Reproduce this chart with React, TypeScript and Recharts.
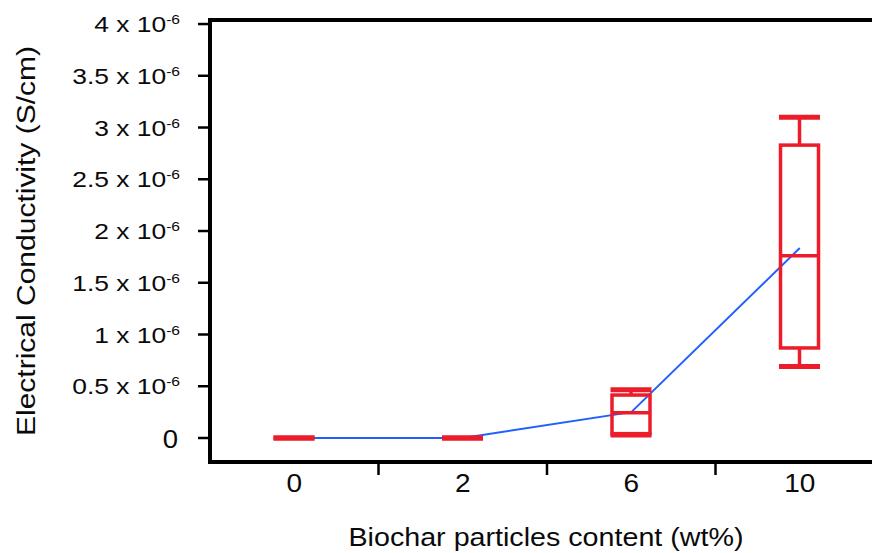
import { ComposedChart, Bar, Line, XAxis, YAxis } from 'recharts'

// biochar particle content (wt%)
const contents = ['0', '2', '6', '10']
// electrical conductivity, in units of 10^-6 S/cm
const mins = [0, 0, 0.03, 0.69]
const q1s = [0, 0, 0.042, 0.87]
const medians = [0, 0, 0.245, 1.76]
const q3s = [0, 0, 0.415, 2.83]
const maxs = [0, 0, 0.465, 3.1]
const means = [0, 0, 0.25, 1.835]
const yTicks = [0, 0.5, 1, 1.5, 2, 2.5, 3, 3.5, 4]
// separators between categories (category index space)
const sepTicks = [0.5, 1.5, 2.5]

const RED = '#ec1c2a'
const BLUE = '#2060ff'
const INK = '#0a0a0a'

const data = contents.map((content, i) => ({
  content,
  pos: i,
  min: mins[i],
  q1: q1s[i],
  median: medians[i],
  q3: q3s[i],
  max: maxs[i],
  mean: means[i],
}))

function BoxShape(props: any) {
  const { x, y, width, height, payload } = props
  const top = Math.min(y, y + height)
  const bottom = Math.max(y, y + height)
  const span = payload.max - payload.min
  // linear in the y scale, between the pixels of min and max
  const py = (v: number) =>
    span > 0 ? bottom - ((v - payload.min) / span) * (bottom - top) : top
  const cx = x + width / 2
  const yMax = py(payload.max)
  const yQ3 = py(payload.q3)
  const yMed = py(payload.median)
  const yQ1 = py(payload.q1)
  const yMin = py(payload.min)
  return (
    <g stroke={RED} fill="none">
      <line x1={cx} x2={cx} y1={yMax} y2={yQ3} strokeWidth={3.5} />
      <line x1={cx} x2={cx} y1={yQ1} y2={yMin} strokeWidth={3.5} />
      <line x1={x - 1.5} x2={x + width + 1.5} y1={yMax} y2={yMax} strokeWidth={5} />
      <line x1={x - 1.5} x2={x + width + 1.5} y1={yMin} y2={yMin} strokeWidth={5} />
      <rect x={x} y={yQ3} width={width} height={Math.max(0, yQ1 - yQ3)} strokeWidth={3.5} />
      <line x1={x} x2={x + width} y1={yMed} y2={yMed} strokeWidth={3.5} />
    </g>
  )
}

function YTick({ x, y, payload }: any) {
  const v = payload.value
  if (v === 0) {
    return (
      <g transform={`translate(${x - 20},${y}) scale(1.1,1)`}>
        <text textAnchor="end" dy={10} fontSize={25} fill={INK} fontFamily="Liberation Sans, Arial, sans-serif">
          0
        </text>
      </g>
    )
  }
  return (
    <g transform={`translate(${x - 18},${y}) scale(1.2,1)`}>
      <text textAnchor="end" dy={8} fontSize={22} fill={INK} fontFamily="Liberation Sans, Arial, sans-serif">
        {`${v} x 10`}
        <tspan fontSize={13} dy={-8}>-6</tspan>
      </text>
    </g>
  )
}

function XTick({ x, y, payload }: any) {
  return (
    <g transform={`translate(${x},${y}) scale(1.12,1)`}>
      <text textAnchor="middle" dy={29} fontSize={25} fill={INK} fontFamily="Liberation Sans, Arial, sans-serif">
        {payload.value}
      </text>
    </g>
  )
}

function NoTick() {
  return <g />
}

function XTitle({ viewBox }: any) {
  return (
    <text
      x={viewBox.x + viewBox.width / 2 - 1}
      y={viewBox.y + 83}
      textAnchor="middle"
      fontSize={25}
      textLength={395}
      lengthAdjust="spacingAndGlyphs"
      fill={INK}
      fontFamily="Liberation Sans, Arial, sans-serif"
    >
      Biochar particles content (wt%)
    </text>
  )
}

function YTitle({ viewBox }: any) {
  const cx = 35
  const cy = viewBox.y + viewBox.height / 2
  return (
    <text
      x={cx}
      y={cy}
      transform={`rotate(-90, ${cx}, ${cy})`}
      textAnchor="middle"
      fontSize={25}
      textLength={390}
      lengthAdjust="spacingAndGlyphs"
      fill={INK}
      fontFamily="Liberation Sans, Arial, sans-serif"
    >
      Electrical Conductivity (S/cm)
    </text>
  )
}

const axisLine = { stroke: '#000', strokeWidth: 4, strokeLinecap: 'square' as const }

export default function App() {
  return (
    <div
      style={{
        position: 'fixed',
        left: 0,
        top: 0,
        width: 872,
        height: 553,
        overflow: 'hidden',
        background: '#fff',
      }}
    >
      <ComposedChart width={900} height={553} data={data} margin={{ top: 19, right: 16, bottom: 0, left: 0 }}>
        <XAxis
          xAxisId="a"
          type="number"
          dataKey="pos"
          domain={[-0.5, 3.5]}
          ticks={sepTicks}
          allowDataOverflow
          interval={0}
          height={1}
          axisLine={axisLine}
          tick={<NoTick />}
          tickSize={13}
          tickLine={{ stroke: '#000', strokeWidth: 2.5 }}
        />
        <XAxis
          xAxisId="b"
          dataKey="content"
          height={90}
          axisLine={false}
          tickLine={false}
          tickSize={0}
          tickMargin={0}
          tick={<XTick />}
          interval={0}
          label={{ content: <XTitle /> }}
        />
        <XAxis
          xAxisId="top"
          dataKey="content"
          orientation="top"
          height={1}
          axisLine={axisLine}
          tickLine={false}
          tick={false}
        />
        <YAxis
          type="number"
          width={210}
          domain={[-0.232, 4.039]}
          ticks={yTicks}
          allowDataOverflow
          interval={0}
          axisLine={axisLine}
          tickSize={12}
          tickMargin={0}
          tickLine={{ stroke: '#000', strokeWidth: 2.5 }}
          tick={<YTick />}
          label={{ content: <YTitle /> }}
        />
        <Line
          xAxisId="b"
          dataKey="mean"
          type="linear"
          stroke={BLUE}
          strokeWidth={2}
          dot={false}
          activeDot={false}
          isAnimationActive={false}
        />
        <Bar
          xAxisId="b"
          dataKey={(d: any) => [d.min, d.max]}
          barSize={38}
          shape={<BoxShape />}
          zIndex={450}
          isAnimationActive={false}
        />
      </ComposedChart>
    </div>
  )
}
